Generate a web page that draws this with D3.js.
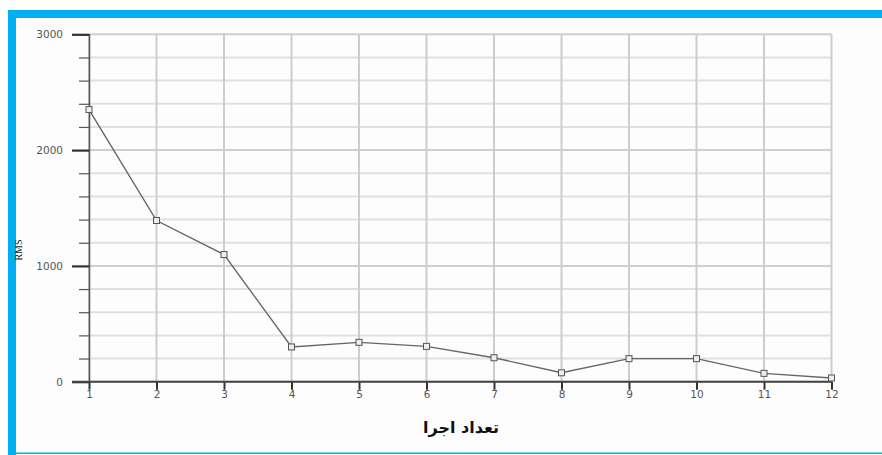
<!DOCTYPE html>
<html><head><meta charset="utf-8">
<script src="https://cdn.jsdelivr.net/npm/d3@7"></script>
<style>html,body{margin:0;padding:0;background:#fff;}svg{display:block;}</style>
</head><body><svg id="c" width="882" height="455"></svg>
<script>
const runs = [1,2,3,4,5,6,7,8,9,10,11,12];
const rms = [2350,1392,1098,300,340,305,207,77,199,199,72,32];
const yMajorTicks = [0,1000,2000,3000];
const yMinorTicks = d3.range(0,3001,200);
const xTitle = "تعداد اجرا";
const yTitle = "RMS";

const svg = d3.select("#c");
// frame
svg.append("rect").attr("x",8).attr("y",10).attr("width",874).attr("height",445).attr("fill","#fdfdfd");
svg.append("rect").attr("x",8).attr("y",10).attr("width",874).attr("height",8).attr("fill","#00b0f0");
svg.append("rect").attr("x",8).attr("y",10).attr("width",8).attr("height",445).attr("fill","#00b0f0");
svg.append("rect").attr("x",8).attr("y",452.5).attr("width",874).attr("height",1.5).attr("fill","#00b0f0");

const x = d3.scaleLinear().domain([1,12]).range([89,831.5]);
const y = d3.scaleLinear().domain([0,3000]).range([381.7,34.3]);

// horizontal grid
svg.append("g").selectAll("line").data(yMinorTicks).join("line")
  .attr("x1",89).attr("x2",831.5).attr("y1",d=>y(d)).attr("y2",d=>y(d))
  .attr("stroke",d=>d%1000===0?"#cfcfcf":"#e0e0e0").attr("stroke-width",2);
// vertical grid
svg.append("g").selectAll("line").data(runs).join("line")
  .attr("x1",d=>x(d)).attr("x2",d=>x(d)).attr("y1",34.3).attr("y2",381.7)
  .attr("stroke","#cdcdcd").attr("stroke-width",2);

// y axis
const yAxis = d3.axisLeft(y).tickValues(yMinorTicks).tickSize(10).tickFormat(d=>yMajorTicks.includes(d)?d:"");
const gy = svg.append("g").attr("transform","translate(89,0)").call(yAxis);
gy.select(".domain").attr("stroke","#555").attr("stroke-width",1.5);
gy.selectAll(".tick line").attr("stroke","#555").attr("stroke-width",1.2);
gy.selectAll(".tick").filter(d=>yMajorTicks.includes(d)).select("line").attr("x2",-17).attr("stroke","#333").attr("stroke-width",2.2);
gy.selectAll(".tick text").attr("x",-26).attr("dy","0.32em").attr("fill","#555")
  .style("font-family","Verdana, 'DejaVu Sans', sans-serif").style("font-size","10.5px");

// x axis
const xAxis = d3.axisBottom(x).tickValues(runs).tickSize(8).tickFormat(d3.format("d"));
const gx = svg.append("g").attr("transform","translate(0,381.7)").call(xAxis);
gx.select(".domain").remove();
gx.append("line").attr("x1",72).attr("x2",831.5).attr("stroke","#444").attr("stroke-width",2);
gx.selectAll(".tick line").attr("stroke","#333").attr("stroke-width",2);
gx.selectAll(".tick text").attr("y",9).attr("dy","0.71em").attr("fill","#555")
  .style("font-family","Verdana, 'DejaVu Sans', sans-serif").style("font-size","10.5px");

// line
const pts = runs.map((r,i)=>[r,rms[i]]);
svg.append("path").datum(pts)
  .attr("d",d3.line().x(d=>x(d[0])).y(d=>y(d[1])))
  .attr("fill","none").attr("stroke","#666").attr("stroke-width",1.4);
svg.append("g").selectAll("rect").data(pts).join("rect")
  .attr("x",d=>x(d[0])-3).attr("y",d=>y(d[1])-3).attr("width",6).attr("height",6)
  .attr("fill","#eee").attr("stroke","#555").attr("stroke-width",1);

// titles
svg.append("text").attr("transform","translate(22,250) rotate(-90)")
  .attr("text-anchor","middle").attr("fill","#222")
  .style("font-family","'Liberation Serif', serif").style("font-size","10px").text(yTitle);
svg.append("text").attr("x",461).attr("y",433).attr("text-anchor","middle")
  .attr("fill","#111").style("font-family","'DejaVu Sans', sans-serif")
  .style("font-weight","bold").style("font-size","16px").text(xTitle);
</script></body></html>
